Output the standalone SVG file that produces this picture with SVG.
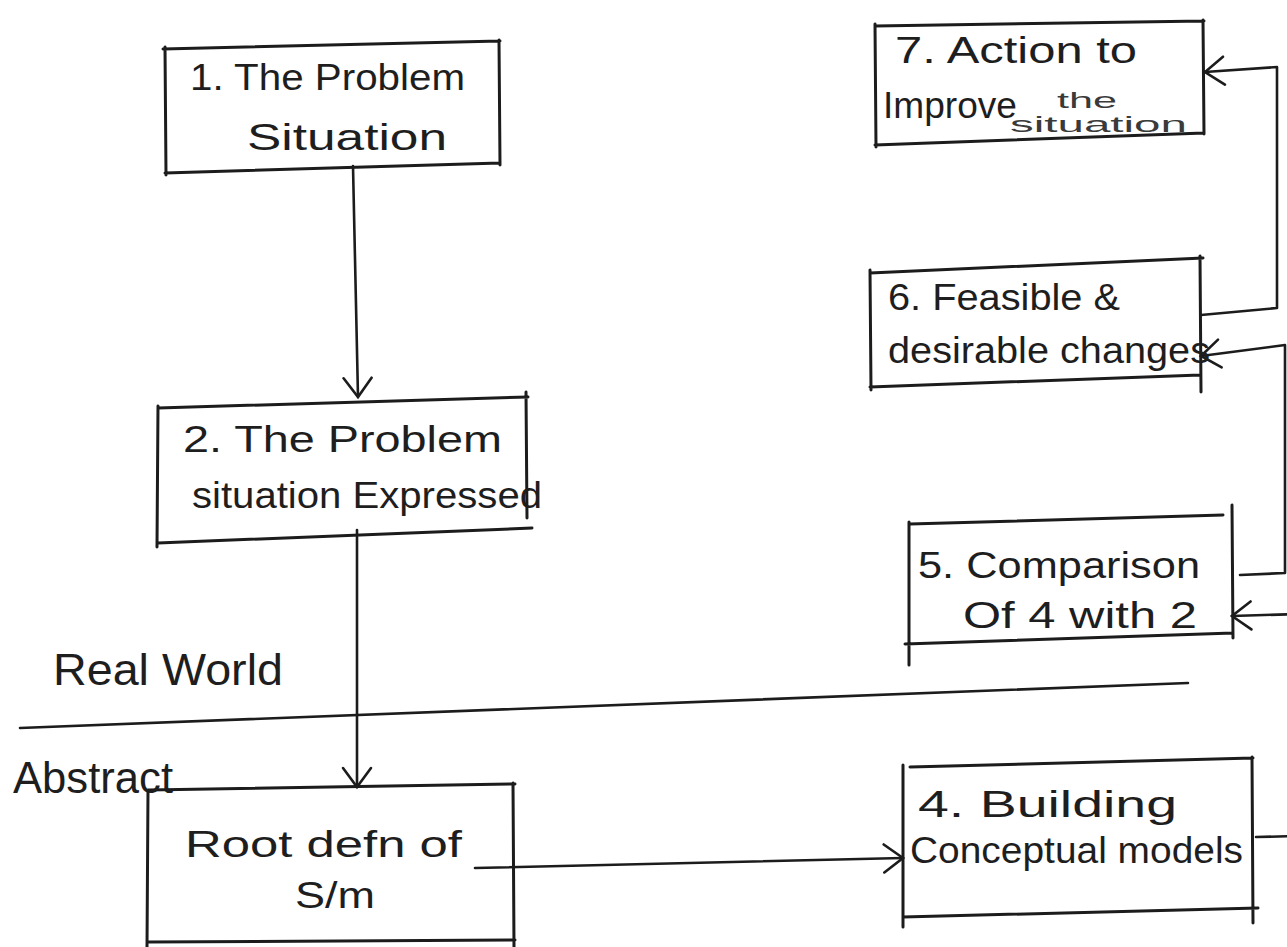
<svg xmlns="http://www.w3.org/2000/svg" width="1287" height="947" viewBox="0 0 1287 947">
  <style>
    .bg { fill: #ffffff; }
    .box { fill: none; stroke: #1c1c1c; stroke-width: 3; stroke-linecap: round; }
    .con { fill: none; stroke: #1c1c1c; stroke-width: 2.6; stroke-linecap: round; stroke-linejoin: round; }
    .t { font-family: "Liberation Sans", "DejaVu Sans", sans-serif; font-size: 36px; fill: #1e1e1e; }
    .s { font-family: "Liberation Sans", "DejaVu Sans", sans-serif; font-size: 22px; fill: #3a3a3a; }
    .lab { font-family: "Liberation Sans", "DejaVu Sans", sans-serif; font-size: 44px; fill: #1e1e1e; }
  </style>
  <defs>
    <marker id="ah" viewBox="0 0 24 32" refX="21" refY="16" markerWidth="24" markerHeight="32" markerUnits="userSpaceOnUse" orient="auto">
      <path d="M2,2 L21,16 L2,30" fill="none" stroke="#1c1c1c" stroke-width="2.6" stroke-linecap="round"/>
    </marker>
  </defs>
  <rect class="bg" x="0" y="0" width="1287" height="947"/>

  <g id="divider">
    <path class="con" d="M20,728 L1188,683"/>
    <text class="lab" x="53" y="685" textLength="230" lengthAdjust="spacingAndGlyphs">Real World</text>
    <text class="lab" x="13" y="793" textLength="160" lengthAdjust="spacingAndGlyphs">Abstract</text>
  </g>

  <g id="connectors">
    <path class="con" d="M353,166 L358,397" marker-end="url(#ah)"/>
    <path class="con" d="M357,530 L357,787" marker-end="url(#ah)"/>
    <path class="con" d="M475,868 L903,858" marker-end="url(#ah)"/>
    <path class="con" d="M1256,837 L1300,836 L1300,614 L1232,616" marker-end="url(#ah)"/>
    <path class="con" d="M1240,575 L1285,573 L1285,345 L1201,356" marker-end="url(#ah)"/>
    <path class="con" d="M1201,315 L1277,308 L1277,67 L1205,72" marker-end="url(#ah)"/>
  </g>

  <g id="node1">
    <path class="box" d="M163,49 L500,41 M499,40 L500,165 M165,173 L500,163 M165,47 L166,175"/>
    <text class="t" x="190" y="90" textLength="275" lengthAdjust="spacingAndGlyphs">1. The Problem</text>
    <text class="t" x="247" y="150" textLength="200" lengthAdjust="spacingAndGlyphs">Situation</text>
  </g>

  <g id="node2">
    <path class="box" d="M158,408 L528,397 M526,392 L527,518 M158,543 L532,528 M158,406 L157,547"/>
    <text class="t" x="183" y="452" textLength="319" lengthAdjust="spacingAndGlyphs">2. The Problem</text>
    <text class="t" x="192" y="508" textLength="350" lengthAdjust="spacingAndGlyphs">situation Expressed</text>
  </g>

  <g id="node3">
    <path class="box" d="M148,790 L515,784 M513,783 L514,947 M148,790 L147,947 M148,942 L515,940"/>
    <text class="t" x="185" y="857" textLength="277" lengthAdjust="spacingAndGlyphs">Root defn of</text>
    <text class="t" x="295" y="908" textLength="80" lengthAdjust="spacingAndGlyphs">S/m</text>
  </g>

  <g id="node4">
    <path class="box" d="M910,767 L1253,758 M903,765 L903,927 M903,917 L1258,908 M1252,757 L1253,923"/>
    <text class="t" x="918" y="817" textLength="259" lengthAdjust="spacingAndGlyphs">4. Building</text>
    <text class="t" x="910" y="863" textLength="333" lengthAdjust="spacingAndGlyphs">Conceptual models</text>
  </g>

  <g id="node5">
    <path class="box" d="M910,524 L1223,515 M909,522 L909,665 M905,644 L1233,633 M1232,505 L1233,638"/>
    <text class="t" x="918" y="578" textLength="282" lengthAdjust="spacingAndGlyphs">5. Comparison</text>
    <text class="t" x="963" y="628" textLength="234" lengthAdjust="spacingAndGlyphs">Of 4 with 2</text>
  </g>

  <g id="node6">
    <path class="box" d="M870,273 L1203,258 M870,270 L871,390 M870,387 L1200,375 M1200,256 L1201,392"/>
    <text class="t" x="888" y="310" textLength="232" lengthAdjust="spacingAndGlyphs">6. Feasible &amp;</text>
    <text class="t" x="888" y="363" textLength="322" lengthAdjust="spacingAndGlyphs">desirable changes</text>
  </g>

  <g id="node7">
    <path class="box" d="M875,26 L1204,21 M1203,20 L1204,134 M875,145 L1204,133 M875,24 L876,147"/>
    <text class="t" x="895" y="63" textLength="242" lengthAdjust="spacingAndGlyphs">7. Action to</text>
    <text class="t" x="883" y="118" textLength="134" lengthAdjust="spacingAndGlyphs">Improve</text>
    <text class="s" x="1057" y="108" textLength="60" lengthAdjust="spacingAndGlyphs">the</text>
    <text class="s" x="1010" y="132" textLength="177" lengthAdjust="spacingAndGlyphs">situation</text>
  </g>
</svg>
